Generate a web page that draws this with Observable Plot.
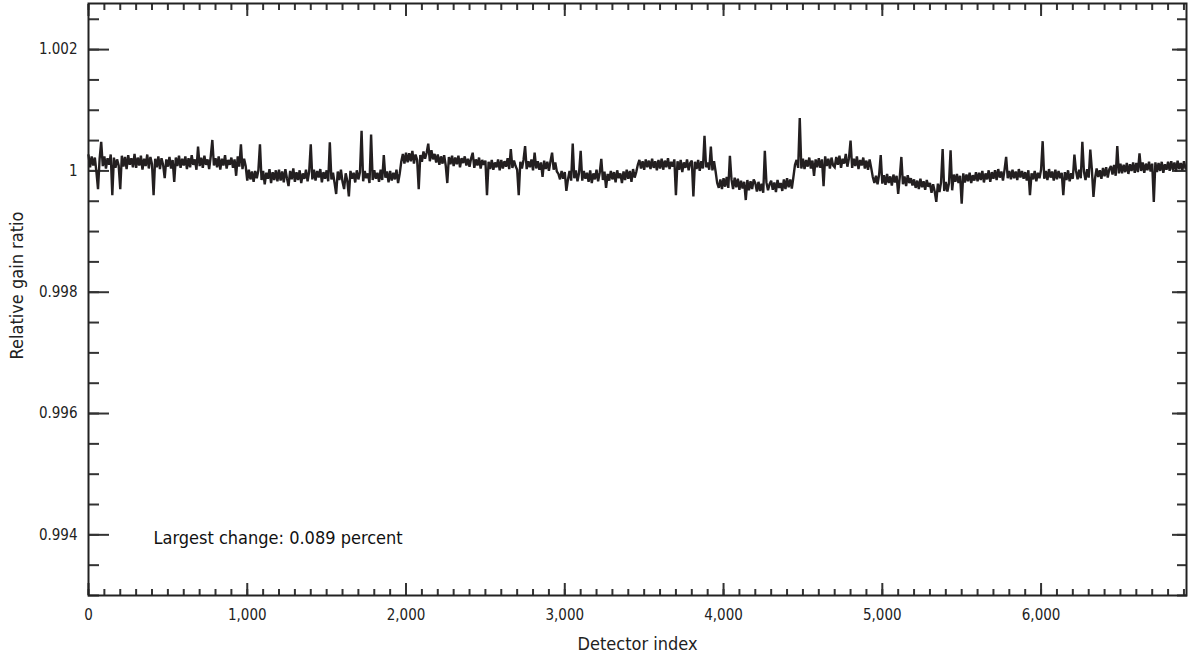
<!DOCTYPE html>
<html>
<head>
<meta charset="utf-8">
<script src="https://cdn.jsdelivr.net/npm/d3@7"></script>
<script src="https://cdn.jsdelivr.net/npm/@observablehq/plot@0.6"></script>
<style>
  html, body { margin: 0; padding: 0; background: #fff; }
  #chart svg { display: block; }
</style>
</head>
<body>
<div id="chart"></div>
<script>
// Detector index sampled every 10 detectors (0 … 6910), 6916 detectors in total
const detectorStep = 10;
const detectorCount = 6916;
// Relative gain ratio, stored as deviation from 1 in units of 1e-5,
// one row per 100 detectors
const gainDeviation = [
  26, 6, 24, 9, 22, -2, -30, 20, 48, 8,          // 0
  24, 4, 21, 10, 27, -40, 22, 5, 19, 9,          // 100
  -30, 25, 7, 23, 3, 26, 10, 21, 6, 28,          // 200
  5, 22, 9, 25, 2, 20, 8, 27, 4, 23,             // 300
  11, -40, 20, 6, 24, 3, 21, 10, -12, 19,        // 400
  7, 23, 4, 18, -18, 22, 8, 25, 5, 20,           // 500
  9, 24, 3, 21, 6, 26, 10, 19, 2, 40,            // 600
  8, 22, 5, 25, 10, 19, 3, 24, 51, 9,            // 700
  21, 6, 24, 2, 20, 9, 26, 4, 18, 10,            // 800
  22, 5, 19, -8, 24, 7, 44, 3, 20, 8,            // 900
  -16, 2, -14, -1, -18, 0, -12, 1, 44, -15,      // 1000
  0, -22, -3, -13, 3, -20, -2, -15, 1, -17,      // 1100
  2, -16, -1, -19, 3, -12, -25, 0, -14, 4,       // 1200
  -18, -2, -15, 1, -20, -4, -13, 2, -17, -1,     // 1300
  44, -14, 2, -16, 0, -11, 3, -19, -2, -13,      // 1400
  1, -17, 47, -14, -3, -20, -38, -1, -15, 2,     // 1500
  -18, -30, -4, -16, -42, 0, -13, -3, -19, 1,    // 1600
  -14, -2, 66, -17, 0, -12, -4, -20, 60, -15,    // 1700
  1, -13, -3, -18, 2, -15, 26, -11, -1, -19,     // 1800
  0, -16, -3, -14, 2, -20, -5, 15, 28, 12,       // 1900
  30, 14, 29, 16, 33, 12, 27, 18, -30, 26,       // 2000
  15, 32, 20, 30, 45, 16, 34, 19, 28, 14,        // 2100
  27, 10, 24, 12, 26, 9, -20, 23, 11, 25,        // 2200
  8, 22, 11, 25, 6, 21, 13, 24, 9, 20,           // 2300
  7, 21, 30, 5, 19, 9, 22, 4, 18, 10,            // 2400
  17, -40, 15, 3, 18, 2, 14, 6, 19, 1,           // 2500
  18, 4, 16, 7, 21, 3, 36, 5, 17, 8,             // 2600
  2, -40, 15, 4, 18, 41, 3, 16, 6, 19,           // 2700
  1, 30, 4, 16, 2, 14, -10, 17, 3, 15,           // 2800
  0, 16, 30, 2, 14, -1, -5, -14, 0, -13,         // 2900
  -2, -33, -14, 0, -16, 45, -12, 1, -17, -3,     // 3000
  33, -16, 0, -13, -3, -18, 1, -20, -4, -14,     // 3100
  2, -17, -3, 20, -15, -1, -28, -5, -16, 0,      // 3200
  -14, -2, -19, 1, -12, -4, -20, -1, -15, 2,     // 3300
  -13, 0, -18, 3, -11, -2, 10, 18, 4, 16,        // 3400
  2, 19, 6, 17, 3, 20, 5, 16, 1, 18,             // 3500
  4, 20, 2, 17, 6, 21, 3, 15, 7, 19,             // 3600
  -40, 16, 2, 18, -2, 14, 5, 19, 1, 13,          // 3700
  17, -42, 15, 3, 18, 0, 16, 4, 58, 6,           // 3800
  14, 2, 40, 1, 16, -1, -20, -28, -14, -30,      // 3900
  -12, -26, -10, -28, 25, -14, -30, -11, -27, -13,  // 4000
  -31, -16, -29, -18, -48, -15, -32, -17, -30, -14, // 4100
  -20, -34, -18, -33, -21, -36, 33, -19, -32, -22,  // 4200
  -16, -31, -19, -35, -15, -28, -20, -33, -14, -30, // 4300
  -12, -27, -14, -29, -10, 10, 18, 5, 87, 4,     // 4400
  20, 3, 18, 7, 22, 4, 17, -8, 19, 6,            // 4500
  21, 5, 19, -25, 24, 8, 20, 4, 22, 9,           // 4600
  6, 23, 10, 25, 5, 20, 12, 28, 7, 21,           // 4700
  50, 5, 20, 8, 24, 3, 18, 9, 22, 4,             // 4800
  17, 2, 19, 5, -10, -20, -8, -22, -6, 26,       // 4900
  -21, -7, -23, -5, -20, -9, -24, -6, -19, -8,   // 5000
  -38, -10, 23, -22, -9, -25, -7, -20, -12, -24, // 5100
  -14, -28, -16, -30, -13, -27, -17, -31, -15, -26, // 5200
  -20, -36, -22, -34, -51, -21, -35, -19, 36, -33,  // 5300
  -18, -34, -20, 34, -32, -6, -18, -5, -20, -8,  // 5400
  -54, -4, -19, -6, -17, -3, -20, -7, -16, -2,   // 5500
  -17, -3, -15, 0, -19, -4, -14, 1, -18, -2,     // 5600
  -13, 1, -15, 3, -11, -1, -16, 2, 23, -12,      // 5700
  0, -14, 2, -12, -1, -15, 3, -11, 0, -13,       // 5800
  -2, -16, 1, -40, -4, -14, 0, -17, -3, -12,     // 5900
  2, 49, -13, 0, -15, 3, -11, -1, -16, 2,        // 6000
  -14, 0, -12, -3, -40, -2, -15, 1, -17, -4,     // 6100
  -13, 27, 0, -14, 2, -12, 48, -1, -15, 3,       // 6200
  -11, 35, 2, -43, -12, 4, -10, 1, -13, 5,       // 6300
  -9, 6, -11, 3, 8, -6, 10, -8, 41, -4,          // 6400
  12, -4, 10, -2, 13, -5, 11, 0, 14, -3,         // 6500
  13, -2, 29, 0, 14, -3, 12, 1, 15, -1,          // 6600
  12, -51, 14, -2, 13, 0, 15, -3, 11, 2,         // 6700
  15, 0, 16, 2, 14, -1, 17, 3, 13, 1,            // 6800
  16, 4                                          // 6900
];

const xMajorTicks = [0, 1000, 2000, 3000, 4000, 5000, 6000];
const xMinorTicks = d3.range(0, 6901, 100);
const yMajorTicks = [0.994, 0.996, 0.998, 1, 1.002];
const yMinorTicks = [0.993, 0.9935, 0.994, 0.9945, 0.995, 0.9955, 0.996, 0.9965, 0.997, 0.9975,
                     0.998, 0.9985, 0.999, 0.9995, 1, 1.0005, 1.001, 1.0015, 1.002, 1.0025];
const xLabel = "Detector index";
const yLabel = "Relative gain ratio";
const annotation = "Largest change: 0.089 percent";

const data = gainDeviation.map((v, i) => ({detector: i * detectorStep, gain: 1 + v / 1e5}));

const font = "'Liberation Sans Narrow', 'DejaVu Sans Condensed', 'Liberation Sans', sans-serif";
const tickColor = "#333";
const ink = "#231f20";

const chart = Plot.plot({
  width: 1189,
  height: 659,
  marginLeft: 88,
  marginRight: 3,
  marginTop: 3,
  marginBottom: 64,
  style: {fontFamily: font, fontSize: "15px", color: "#222", background: "#fff"},
  x: {domain: [0, detectorCount]},
  y: {domain: [0.993, 1.00276]},
  marks: [
    // inward minor / major ticks on all four sides
    Plot.axisX(xMinorTicks, {anchor: "bottom", tickSize: -6, fill: "none", label: null, stroke: tickColor, strokeWidth: 2}),
    Plot.axisX(xMajorTicks, {anchor: "bottom", tickSize: -12, fill: "none", label: null, stroke: tickColor, strokeWidth: 2}),
    Plot.axisX(xMinorTicks, {anchor: "top", tickSize: -6, fill: "none", label: null, stroke: tickColor, strokeWidth: 2}),
    Plot.axisX(xMajorTicks, {anchor: "top", tickSize: -12, fill: "none", label: null, stroke: tickColor, strokeWidth: 2}),
    Plot.axisY(yMinorTicks, {anchor: "left", tickSize: -11, fill: "none", label: null, stroke: tickColor, strokeWidth: 2}),
    Plot.axisY(yMajorTicks, {anchor: "left", tickSize: -21, fill: "none", label: null, stroke: tickColor, strokeWidth: 2}),
    Plot.axisY(yMinorTicks, {anchor: "right", tickSize: -10, fill: "none", label: null, stroke: tickColor, strokeWidth: 2}),
    Plot.axisY(yMajorTicks, {anchor: "right", tickSize: -15, fill: "none", label: null, stroke: tickColor, strokeWidth: 2}),
    // tick labels
    Plot.axisX(xMajorTicks, {anchor: "bottom", tickSize: 0, tickPadding: 14, tickFormat: d3.format(","),
      label: null, fill: "#222", fontSize: 15}),
    Plot.axisY(yMajorTicks, {anchor: "left", tickSize: 0, tickPadding: 11, tickFormat: d3.format("~g"),
      label: null, fill: "#222", fontSize: 15}),
    Plot.text([xLabel], {frameAnchor: "bottom", textAnchor: "middle", lineAnchor: "middle", dy: 49, fontSize: 18, fill: "#222"}),
    Plot.text([yLabel], {frameAnchor: "left", textAnchor: "middle", lineAnchor: "middle", rotate: -90, dx: -71, dy: -14, fontSize: 18, fill: "#222"}),
    // data
    Plot.line(data, {x: "detector", y: "gain", stroke: ink, strokeWidth: 2.4, strokeLinejoin: "miter", strokeMiterlimit: 2.5}),
    Plot.text([annotation], {frameAnchor: "bottom-left", textAnchor: "start", lineAnchor: "middle", dx: 65, dy: -57, fontSize: 18, fill: "#111"}),
    Plot.frame({stroke: "#222", strokeWidth: 2})
  ]
});
document.getElementById("chart").appendChild(chart);
</script>
</body>
</html>
